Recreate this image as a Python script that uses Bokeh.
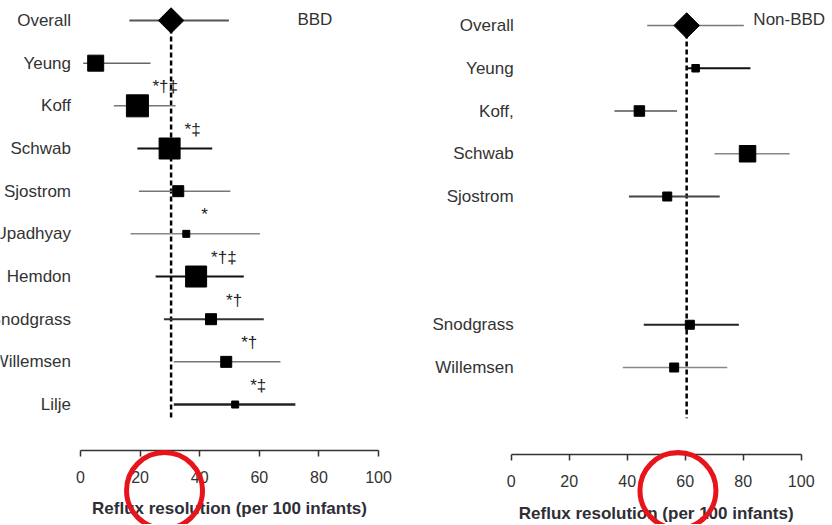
import numpy as np
from bokeh.plotting import figure
from bokeh.layouts import row
from bokeh.models import Range1d, FixedTicker
from bokeh.core.properties import value
from bokeh.embed import file_html
from bokeh.resources import INLINE

# ---------------- data ----------------
x_ticks = [0, 20, 40, 60, 80, 100]
axis_title = "Reflux resolution (per 100 infants)"

# BBD panel (first entry = Overall pooled estimate)
bbd_group = "BBD"
bbd_studies = ["Overall", "Yeung", "Koff", "Schwab", "Sjostrom", "Upadhyay",
               "Hemdon", "Snodgrass", "Willemsen", "Lilje"]
bbd_rows = [0, 1, 2, 3, 4, 5, 6, 7, 8, 9]
bbd_est = [30.4, 5.1, 19.1, 29.9, 32.8, 35.5, 38.8, 43.8, 48.9, 51.9]
bbd_lo = [16.4, 0.9, 11.2, 19.1, 19.6, 16.8, 25.2, 28.0, 31.3, 31.3]
bbd_hi = [49.8, 23.5, 31.9, 44.2, 50.3, 60.2, 54.8, 61.5, 67.1, 72.1]
bbd_weight = [0, 16, 22, 21, 11, 7, 21, 11, 11, 7]
bbd_marks = ["", "", "*†‡", "*‡", "", "*", "*†‡", "*†", "*†", "*‡"]
bbd_highlight = 28.2

# Non-BBD panel
non_group = "Non-BBD"
non_studies = ["Overall", "Yeung", "Koff,", "Schwab", "Sjostrom", "Snodgrass", "Willemsen"]
non_rows = [0, 1, 2, 3, 4, 7, 8]
non_est = [60.5, 63.6, 44.2, 81.5, 53.8, 61.6, 56.2]
non_lo = [46.9, 60.4, 35.6, 70.1, 40.6, 45.7, 38.5]
non_hi = [80.2, 82.5, 57.2, 96.0, 71.9, 78.5, 74.5]
non_weight = [0, 7.5, 10.5, 16.5, 9, 9, 9]
non_marks = ["", "", "", "", "", "", ""]
non_highlight = 57.5

# ---------------- styles ----------------
FONT = value("Liberation Sans")
bbd_ci_colors = ["#555555", "#666666", "#777777", "#111111", "#777777",
                 "#888888", "#111111", "#333333", "#777777", "#222222"]
bbd_ci_widths = [2, 1.5, 1.5, 2, 1.5, 1.5, 2, 2, 1.5, 2.5]
non_ci_colors = ["#777777", "#111111", "#555555", "#888888", "#444444", "#222222", "#888888"]
non_ci_widths = [1.5, 2, 1.5, 1.5, 2, 2, 1.5]


def panel(group, names, rows, est, lo, hi, weight, marks, highlight, ci_colors, ci_widths,
          px0, ppu, row0_y, pitch, frame_left, frame_w, frame_h, label_dx, group_x,
          group_dy, tick_standoff, title_y, line_end, bottom):
    xs = (frame_left - px0) / ppu
    x_range = Range1d(xs, xs + frame_w / ppu)
    y_range = Range1d((frame_h - row0_y) / pitch, (0 - row0_y) / pitch)
    p = figure(frame_width=frame_w, frame_height=frame_h, x_range=x_range, y_range=y_range,
               toolbar_location=None, output_backend="svg", y_axis_location=None,
               min_border=0, min_border_bottom=bottom, outline_line_color=None)
    p.grid.visible = False

    ax = p.xaxis[0]
    ax.bounds = (x_ticks[0], x_ticks[-1])
    ax.ticker = FixedTicker(ticks=x_ticks)
    ax.major_label_text_font = "Liberation Sans"
    ax.major_label_text_font_size = "16px"
    ax.major_label_text_color = "#333333"
    ax.major_label_standoff = tick_standoff
    ax.major_tick_out = 6
    ax.major_tick_in = 0
    ax.minor_tick_out = 0
    ax.minor_tick_in = 0
    ax.axis_line_width = 1.5
    ax.axis_line_color = "#333333"
    ax.major_tick_line_color = "#333333"
    ax.major_tick_line_width = 1.5

    # reference (pooled) dashed line
    p.segment(x0=[est[0]], y0=[rows[0]], x1=[est[0]], y1=[line_end],
              line_color="black", line_width=2.5, line_dash="5 3")

    # confidence intervals
    p.segment(x0=lo, y0=rows, x1=hi, y1=rows, line_color=ci_colors, line_width=ci_widths)

    # study squares
    p.scatter(x=est[1:], y=rows[1:], marker="square", size=weight[1:],
              fill_color="black", line_color="black")
    # pooled diamond
    p.scatter(x=[est[0]], y=[rows[0]], marker="square", angle=np.pi / 4, size=18,
              fill_color="black", line_color="black")

    # significance marks
    p.text(x=est, y=rows, text=marks, text_font=FONT, text_font_size="17px",
           text_color="#222222", text_align="left", text_baseline="middle",
           x_offset=15, y_offset=-19)

    # study names
    p.text(x=[0] * len(names), y=rows, text=names, text_font=FONT, text_font_size="17px",
           text_color="#333333", text_align="right", text_baseline="middle", x_offset=label_dx)

    # group label
    p.text(x=[group_x], y=[rows[0]], text=[group], text_font=FONT, text_font_size="17px",
           text_color="#333333", text_align="left", text_baseline="middle", y_offset=group_dy)

    # axis title, centred on the 0-100 axis
    p.text(x=[(x_ticks[0] + x_ticks[-1]) / 2], y=[title_y], text=[axis_title], text_font=FONT,
           text_font_size="17px", text_font_style="bold", text_color="#2e2e36",
           text_align="center", text_baseline="middle", level="overlay")

    # red highlight ring below the axis
    cy = (490 - row0_y) / pitch
    p.scatter(x=[highlight], y=[cy], marker="circle", size=76, fill_alpha=0,
              line_color="#e8141b", line_width=5, level="overlay")
    return p


p1 = panel(bbd_group, bbd_studies, bbd_rows, bbd_est, bbd_lo, bbd_hi, bbd_weight, bbd_marks,
           bbd_highlight, bbd_ci_colors, bbd_ci_widths,
           px0=80, ppu=2.98, row0_y=20, pitch=42.67, frame_left=0, frame_w=410, frame_h=450,
           label_dx=-9.5, group_x=72.8, group_dy=-1, tick_standoff=14,
           title_y=(508 - 20) / 42.67, line_end=9.37, bottom=74)
p2 = panel(non_group, non_studies, non_rows, non_est, non_lo, non_hi, non_weight, non_marks,
           non_highlight, non_ci_colors, non_ci_widths,
           px0=510.7, ppu=2.9, row0_y=25, pitch=42.75, frame_left=410, frame_w=422, frame_h=454,
           label_dx=2.5, group_x=83.5, group_dy=-6, tick_standoff=14,
           title_y=(513 - 25) / 42.75, line_end=9.19, bottom=70)

layout = row(p1, p2)
open("out.html", "w").write(file_html(layout, INLINE))
